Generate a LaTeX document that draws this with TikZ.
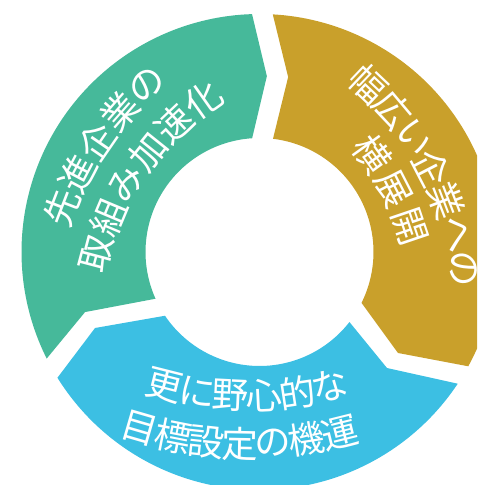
\documentclass[tikz,border=0pt]{standalone}
\usepackage{fontspec}
\newfontfamily\jpfont{Noto Sans CJK JP}
\definecolor{cgreen}{HTML}{46B99A}
\definecolor{cgold}{HTML}{C9A02B}
\definecolor{cblue}{HTML}{3CBFE3}
\definecolor{cdot}{HTML}{6E6E70}
\begin{document}
\begin{tikzpicture}[x=1pt,y=1pt,
  txt/.style={text=white, font=\jpfont\fontsize{36.5}{36.5}\selectfont, inner sep=0pt, anchor=center},
  leader/.style={draw=cdot, line width=3.4pt, line cap=rect, dash pattern=on 0pt off 9.35pt}]
\clip (0,0) rectangle (477,485);
\useasboundingbox (0,0) rectangle (477,485);
\coordinate (C) at (259.5,233);
% ring segments
\begin{scope}[shift={(C)}]
  \fill[cgreen] (206.6:238pt) -- (199:184.5pt) -- (204.2:114pt)
     arc[start angle=204.2, end angle=93.7, radius=114pt]
     -- (87.6:176pt) -- (91.8:238pt)
     arc[start angle=91.8, end angle=206.6, radius=238pt] -- cycle;
  \fill[cgold] (86.8:238pt) -- (80.7:177.3pt) -- (83.2:114pt)
     arc[start angle=83.2, end angle=-26.5, radius=114pt]
     -- (-36.1:171.4pt) -- (-28.7:238pt)
     arc[start angle=-28.7, end angle=86.8, radius=238pt] -- cycle;
  \fill[cblue] (-33.6:238pt) -- (-42.3:172.4pt) -- (-37.9:114pt)
     arc[start angle=-37.9, end angle=-146, radius=114pt]
     -- (-155.2:181.2pt) -- (-148.1:238pt)
     arc[start angle=-148.1, end angle=-33.6, radius=238pt] -- cycle;
\end{scope}
% dotted leaders
\coordinate (l1a) at (144.3,450.7);
\coordinate (l1b) at (98.0,498.0);
\coordinate (l2a) at (385.0,437.3);
\coordinate (l2b) at (440.0,492.3);
\draw[leader] (l1a) -- (l1b);
\draw[leader] (l2a) -- (l2b);
% green text
\foreach \ch [count=\i from 0] in {先,進,企,業,の} {
  \pgfmathsetmacro\myang{158.9-6.72*\i}
  \pgfmathsetmacro\myrot{\myang-90}
  \node[txt, rotate=\myrot] (ga\i) at ([shift={(361,162)}]\myang:320pt) {\ch};
}
\foreach \ch [count=\i from 0] in {取,組,み,加,速,化} {
  \pgfmathsetmacro\myang{165.2-7.98*\i}
  \pgfmathsetmacro\myrot{\myang-90}
  \node[txt, rotate=\myrot] (gb\i) at ([shift={(361,162)}]\myang:273pt) {\ch};
}
% gold text
\foreach \ch [count=\i from 0] in {幅,広,い,企,業,へ,の} {
  \pgfmathsetmacro\myang{46.5-6.37*\i}
  \pgfmathsetmacro\myrot{\myang-90}
  \node[txt, rotate=\myrot] (oa\i) at ([shift={(150.1,170.7)}]\myang:317pt) {\ch};
}
\foreach \ch [count=\i from 0] in {横,展,開} {
  \pgfmathsetmacro\myang{35.7-8.5*\i}
  \pgfmathsetmacro\myrot{\myang-90}
  \node[txt, rotate=\myrot] (ob\i) at ([shift={(150.1,170.7)}]\myang:274pt) {\ch};
}
% blue text
\foreach \ch [count=\i from 0] in {更,に,野,心,的,な} {
  \pgfmathsetmacro\myang{-104.2+5.7*\i}
  \pgfmathsetmacro\myrot{\myang+90}
  \node[txt, rotate=\myrot] (ba\i) at ([shift={(247,425)}]\myang:336pt) {\ch};
}
\foreach \ch [count=\i from 0] in {目,標,設,定,の,機,運} {
  \pgfmathsetmacro\myang{-106.2+5.03*\i}
  \pgfmathsetmacro\myrot{\myang+90}
  \node[txt, rotate=\myrot] (bb\i) at ([shift={(247,425)}]\myang:384pt) {\ch};
}
\end{tikzpicture}
\end{document}
